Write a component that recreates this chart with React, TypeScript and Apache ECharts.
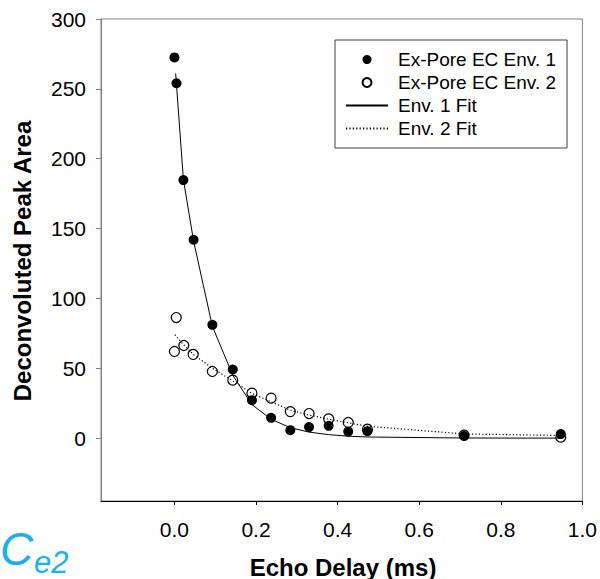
import React, { useEffect, useRef } from "react";
import * as echarts from "echarts";

// Echo delay (ms) and deconvoluted peak areas
const env1X = [0.0, 0.005, 0.022, 0.047, 0.093, 0.143, 0.19, 0.237, 0.284, 0.33, 0.378, 0.426, 0.473, 0.71, 0.947];
const env1Y = [272.5, 254, 184.7, 142, 81.1, 49.1, 27.2, 14.5, 5.7, 7.9, 8.8, 4.7, 5.0, 1.5, 2.9];

const env2X = [0.0, 0.0045, 0.023, 0.046, 0.093, 0.143, 0.19, 0.237, 0.284, 0.33, 0.378, 0.426, 0.473, 0.71, 0.947];
const env2Y = [62, 86.3, 66.3, 59.9, 47.7, 41.5, 32.2, 28.6, 19, 17.6, 13.8, 11.2, 6.4, 2.1, 0.7];

// Fitted decay curves
const fit1X = [0.003, 0.022, 0.047, 0.093, 0.143, 0.19, 0.237, 0.284, 0.33, 0.378, 0.426, 0.473, 0.71, 0.947];
const fit1Y = [261, 185, 141, 80, 45, 24, 13.5, 7.5, 4.3, 2.5, 1.4, 0.8, 0.1, 0];

const fit2X = [0.001, 0.022, 0.046, 0.093, 0.143, 0.19, 0.237, 0.284, 0.33, 0.378, 0.426, 0.473, 0.71, 0.947];
const fit2Y = [74, 67, 60, 50, 41, 32, 26, 20, 16.5, 13.6, 11, 8.5, 3, 1.9];

const xTicks = [0, 0.2, 0.4, 0.6, 0.8, 1.0];
const yTicks = [0, 50, 100, 150, 200, 250, 300];

const seriesNames = ["Ex-Pore EC Env. 1", "Ex-Pore EC Env. 2", "Env. 1 Fit", "Env. 2 Fit"];

const FONT = "'Liberation Sans', Arial, sans-serif";

const zip = (xs: number[], ys: number[]) => xs.map((x, i) => [x, ys[i]]);

export default function App() {
  const ref = useRef<HTMLDivElement>(null);

  useEffect(() => {
    if (!ref.current) return;
    const chart = echarts.init(ref.current, null, { renderer: "svg" });
    chart.setOption({
      animation: false,
      backgroundColor: "#ffffff",
      grid: {
        left: 101,
        right: 15,
        top: 19,
        bottom: 78,
        show: true,
        borderColor: "#808080",
        borderWidth: 1,
        backgroundColor: "transparent",
      },
      legend: {
        orient: "vertical",
        left: 335,
        top: 40,
        width: 233,
        padding: [10, 11, 10, 10],
        borderColor: "#404040",
        borderWidth: 1,
        itemWidth: 42,
        itemHeight: 9,
        itemGap: 4,
        data: [
          { name: seriesNames[0] },
          { name: seriesNames[1] },
          // fit entries show only their line sample
          { name: seriesNames[2], itemStyle: { opacity: 0 } },
          { name: seriesNames[3], itemStyle: { opacity: 0 } },
        ],
        textStyle: {
          fontFamily: FONT,
          fontSize: 19,
          color: "#000",
          padding: [0, 0, 0, 5],
        },
      },
      xAxis: {
        type: "value",
        min: -0.18,
        max: 1.0,
        splitLine: { show: false },
        axisLine: { onZero: false, lineStyle: { color: "#000", width: 1 } },
        axisTick: {
          show: true,
          length: 4,
          inside: false,
          customValues: xTicks,
          lineStyle: { color: "#000" },
        },
        axisLabel: {
          customValues: xTicks,
          margin: 18,
          fontFamily: FONT,
          fontSize: 21,
          color: "#000",
          formatter: (v: number) => v.toFixed(1),
        },
      },
      yAxis: {
        type: "value",
        min: -45,
        max: 300,
        splitLine: { show: false },
        axisLine: { show: true, onZero: false, lineStyle: { color: "#808080", width: 1 } },
        axisTick: {
          show: true,
          length: 5,
          inside: false,
          customValues: yTicks,
          lineStyle: { color: "#808080" },
        },
        axisLabel: {
          customValues: yTicks,
          margin: 15,
          fontFamily: FONT,
          fontSize: 21,
          color: "#000",
        },
      },
      graphic: [
        {
          type: "text",
          x: 343,
          y: 567,
          style: {
            text: "Echo Delay (ms)",
            font: `bold 24px ${FONT}`,
            fill: "#000",
            align: "center",
            verticalAlign: "middle",
          },
        },
        {
          type: "text",
          x: 22,
          y: 261,
          rotation: Math.PI / 2,
          style: {
            text: "Deconvoluted Peak Area",
            font: `bold 24px ${FONT}`,
            fill: "#000",
            align: "center",
            verticalAlign: "middle",
          },
        },
        {
          type: "text",
          x: 0,
          y: 549,
          style: {
            text: "C",
            font: `italic 46px ${FONT}`,
            fill: "#18b1ef",
            align: "left",
            verticalAlign: "middle",
          },
        },
        {
          type: "text",
          x: 34,
          y: 562,
          style: {
            text: "e2",
            font: `italic 31px ${FONT}`,
            fill: "#18b1ef",
            align: "left",
            verticalAlign: "middle",
          },
        },
      ],
      series: [
        {
          name: seriesNames[2],
          type: "line",
          data: zip(fit1X, fit1Y),
          showSymbol: false,
          symbol: "none",
          lineStyle: { color: "#000", width: 1, type: "solid" },
          itemStyle: { color: "#000" },
          z: 2,
        },
        {
          name: seriesNames[3],
          type: "line",
          data: zip(fit2X, fit2Y),
          showSymbol: false,
          symbol: "none",
          lineStyle: { color: "#000", width: 1.2, type: [1.2, 2.2] },
          itemStyle: { color: "#000" },
          z: 2,
        },
        {
          name: seriesNames[0],
          type: "scatter",
          data: zip(env1X, env1Y),
          symbol: "circle",
          symbolSize: 10,
          itemStyle: { color: "#000", opacity: 1 },
          z: 3,
        },
        {
          name: seriesNames[1],
          type: "scatter",
          data: zip(env2X, env2Y),
          symbol: "circle",
          symbolSize: 10,
          itemStyle: {
            color: "rgba(255,255,255,0)",
            borderColor: "#000",
            borderWidth: 1.2,
            opacity: 1,
          },
          z: 4,
        },
      ],
    });
    return () => chart.dispose();
  }, []);

  return <div ref={ref} style={{ width: 600, height: 579, position: "absolute", left: 0, top: 0 }} />;
}
